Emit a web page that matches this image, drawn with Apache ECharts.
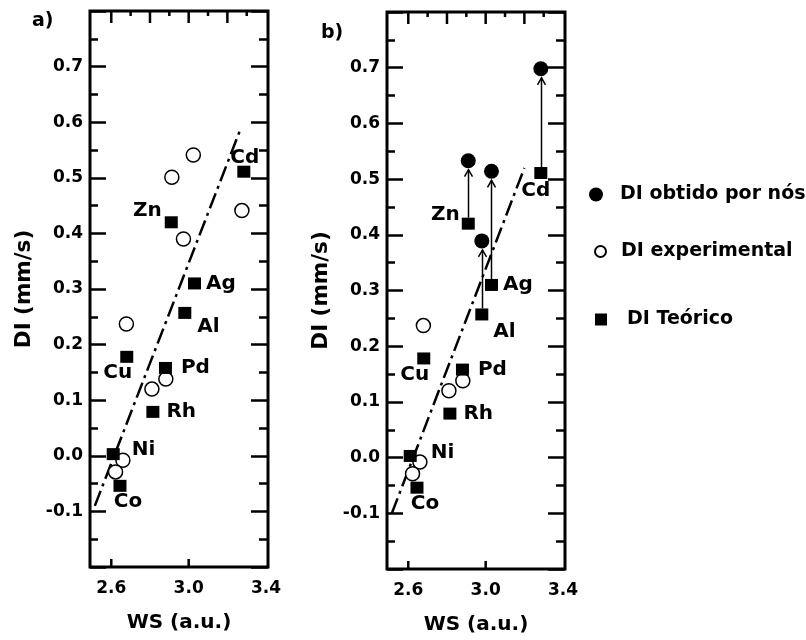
<!DOCTYPE html>
<html>
<head>
<meta charset="utf-8">
<title>DI x WS</title>
<script src="https://cdn.jsdelivr.net/npm/echarts@6/dist/echarts.min.js"></script>
<style>
html, body { margin: 0; padding: 0; background: #fff; }
#chart { width: 806px; height: 640px; }
</style>
</head>
<body>
<div id="chart"></div>
<script>
// valores
const elementos = ['Ni', 'Co', 'Cu', 'Rh', 'Pd', 'Al', 'Ag', 'Zn', 'Cd'];
const wsTeorico = [2.61, 2.645, 2.68, 2.815, 2.88, 2.98, 3.03, 2.91, 3.285];
const diTeorico = [0.003, -0.054, 0.178, 0.079, 0.158, 0.257, 0.31, 0.42, 0.511];
const wsExperimental = [2.66, 2.622, 2.678, 2.81, 2.882, 2.973, 3.024, 2.913, 3.275];
const diExperimental = [-0.008, -0.029, 0.237, 0.12, 0.138, 0.39, 0.541, 0.501, 0.441];
const expPainelB = ['Ni', 'Co', 'Cu', 'Rh', 'Pd'];
const elementosObtido = ['Al', 'Ag', 'Zn', 'Cd'];
const diObtido = [0.389, 0.514, 0.533, 0.698];
const ajusteA = [[2.515, -0.09], [3.265, 0.585]];
const ajusteB = [[2.515, -0.10], [3.20, 0.52]];
const wsLabels = [2.6, 3.0, 3.4];
const wsTicksBase = [2.6, 3.0];
const wsMajor = [2.6, 2.8, 3.0, 3.2];
const wsMinor = [2.7, 2.9, 3.1, 3.3];
const diLabels = [-0.1, 0.0, 0.1, 0.2, 0.3, 0.4, 0.5, 0.6, 0.7];

const FONTE = 'DejaVu Sans';
const WS_MIN = 2.49, WS_MAX = 3.41;
const DI_MIN = -0.2, DI_MAX = 0.8;

// posição dos rótulos dos elementos
const rotA = {
  Ni: { position: 'right', distance: 12, offset: [0, -4] },
  Co: { position: 'bottom', distance: 0, offset: [8, 0] },
  Cu: { position: 'bottom', distance: 0, offset: [-9, 0] },
  Rh: { position: 'right', distance: 7 },
  Pd: { position: 'right', distance: 9 },
  Al: { position: 'right', distance: 6, offset: [0, 14] },
  Ag: { position: 'right', distance: 5 },
  Zn: { position: 'left', distance: 3, offset: [0, -11] },
  Cd: { position: 'top', distance: -2, offset: [1, 0] }
};
const rotB = Object.assign({}, rotA, {
  Ni: { position: 'right', distance: 14, offset: [0, -3] },
  Zn: { position: 'left', distance: 2, offset: [0, -9] },
  Al: { position: 'right', distance: 5, offset: [0, 17] },
  Cd: { position: 'bottom', distance: 2, offset: [-5, 0] }
});

function teorico (rot) {
  return elementos.map((e, i) => ({
    value: [wsTeorico[i], diTeorico[i]],
    label: Object.assign({ show: true, formatter: e }, rot[e])
  }));
}
function experimental (lista) {
  return elementos
    .map((e, i) => (lista.indexOf(e) >= 0 ? [wsExperimental[i], diExperimental[i]] : null))
    .filter((d) => d);
}

function eixoX (grid) {
  return {
    type: 'value', gridIndex: grid, position: 'bottom', min: WS_MIN, max: WS_MAX,
    splitLine: { show: false },
    axisLine: { show: false, onZero: false },
    axisTick: { show: false },
    axisLabel: { show: true, customValues: wsLabels, formatter: (v) => v.toFixed(1), margin: 13,
      color: '#000', fontFamily: FONTE, fontWeight: 'bold', fontSize: 17 },
    name: 'WS (a.u.)',
    nameLocation: 'middle', nameGap: 46,
    nameTextStyle: { color: '#000', fontFamily: FONTE, fontWeight: 'bold', fontSize: 20 }
  };
}
function eixoY (grid, pos, labels, major, minor) {
  return {
    type: 'value', gridIndex: grid, position: pos, min: DI_MIN, max: DI_MAX, interval: 0.1,
    splitLine: { show: false },
    axisLine: { show: false, onZero: false },
    axisTick: { show: true, inside: true, length: major, lineStyle: { color: '#000', width: 2.5 } },
    minorTick: { show: true, splitNumber: 2, length: minor, lineStyle: { color: '#000', width: 2.5 } },
    axisLabel: labels
      ? { show: true, customValues: diLabels, formatter: (v) => v.toFixed(1), margin: 7,
          color: '#000', fontFamily: FONTE, fontWeight: 'bold', fontSize: 17 }
      : { show: false },
    name: labels ? 'DI (mm/s)' : '',
    nameLocation: 'middle', nameGap: 55,
    nameTextStyle: { color: '#000', fontFamily: FONTE, fontWeight: 'bold', fontSize: 21.5 }
  };
}

// marcas do eixo WS nas bordas de baixo e de cima, como símbolos finos deslocados para dentro
function marca (ws, borda, len) {
  const dir = borda === DI_MIN ? -1 : 1;
  return { value: [ws, borda], symbolSize: [2.5, len], symbolOffset: [0, dir * len / 2] };
}
const marcasX = [].concat(
  wsTicksBase.map((v) => marca(v, DI_MIN, 8)),
  wsMajor.map((v) => marca(v, DI_MAX, 12)),
  wsMinor.map((v) => marca(v, DI_MAX, 5))
);

const rotuloEstilo = { color: '#000', fontFamily: FONTE, fontWeight: 'bold', fontSize: 20 };
const quadrado = { symbol: 'rect', symbolSize: [13, 12], itemStyle: { color: '#000', opacity: 1 } };
const aberto = { symbol: 'circle', symbolSize: 14,
  itemStyle: { color: '#fff', borderColor: '#000', borderWidth: 1.5, opacity: 1 } };
const linhaAjuste = { type: 'line', showSymbol: false, silent: true, z: 1,
  lineStyle: { color: '#000', width: 2.5, type: [16, 5, 3, 5] } };
const estiloMarcas = { type: 'scatter', symbol: 'rect', silent: true, clip: false, z: 5,
  itemStyle: { color: '#000', opacity: 1 }, emphasis: { disabled: true } };

function desenhaSeta (params, api) {
  const base = api.coord([api.value(0), api.value(1)]);
  const topo = api.coord([api.value(0), api.value(2)]);
  const x = Math.round(base[0]) + 0.5;
  const y0 = base[1] - 6;
  const y1 = topo[1] + 9;
  return {
    type: 'group',
    children: [
      { type: 'line', shape: { x1: x, y1: y0, x2: x, y2: y1 },
        style: { stroke: '#000', lineWidth: 1.5 } },
      { type: 'polyline', shape: { points: [[x - 4, y1 + 7], [x, y1], [x + 4, y1 + 7]] },
        style: { stroke: '#000', lineWidth: 1.5, fill: null } }
    ]
  };
}

const setas = elementosObtido.map((e, i) => {
  const k = elementos.indexOf(e);
  return [wsTeorico[k], diTeorico[k], diObtido[i]];
});
const obtido = elementosObtido.map((e, i) => [wsTeorico[elementos.indexOf(e)], diObtido[i]]);

function legenda (nome, left, top, tam, recuo) {
  return {
    data: [nome], left: left, top: top, orient: 'vertical', padding: 0,
    itemWidth: tam, itemHeight: tam, selectedMode: false,
    textStyle: { color: '#000', fontFamily: FONTE, fontWeight: 'bold', fontSize: 19,
      padding: [0, 0, 0, recuo] }
  };
}

var myChart = echarts.init(document.getElementById('chart'), null, { renderer: 'canvas' });

var option = {
  animation: false,
  backgroundColor: '#fff',
  title: [
    { text: 'a)', left: 32, top: 12, padding: 0,
      textStyle: { color: '#000', fontFamily: FONTE, fontWeight: 'bold', fontSize: 19 } },
    { text: 'b)', left: 321, top: 24, padding: 0,
      textStyle: { color: '#000', fontFamily: FONTE, fontWeight: 'bold', fontSize: 19 } }
  ],
  legend: [
    legenda('DI obtido por nós', 589, 185, 14, 12),
    legenda('DI experimental', 594, 242, 11, 10),
    legenda('DI Teórico', 595, 310, 12, 15)
  ],
  grid: [
    { left: 90, top: 11, width: 178, height: 556, show: true, borderColor: '#000', borderWidth: 3,
      backgroundColor: 'transparent', outerBoundsMode: 'none' },
    { left: 387, top: 12, width: 178, height: 557, show: true, borderColor: '#000', borderWidth: 3,
      backgroundColor: 'transparent', outerBoundsMode: 'none' }
  ],
  xAxis: [eixoX(0), eixoX(1)],
  yAxis: [
    eixoY(0, 'left', true, 16, 8),
    eixoY(0, 'right', false, 17, 9),
    eixoY(1, 'left', true, 16, 8),
    eixoY(1, 'right', false, 17, 9)
  ],
  series: [
    // painel a
    Object.assign({}, estiloMarcas, { name: 'marcas a', xAxisIndex: 0, yAxisIndex: 0, data: marcasX }),
    Object.assign({}, linhaAjuste, { name: 'ajuste a', xAxisIndex: 0, yAxisIndex: 0, data: ajusteA }),
    Object.assign({ type: 'scatter', name: 'DI experimental', xAxisIndex: 0, yAxisIndex: 0, z: 3,
      data: experimental(elementos) }, aberto),
    Object.assign({ type: 'scatter', name: 'DI Teórico', xAxisIndex: 0, yAxisIndex: 0, z: 4,
      label: rotuloEstilo, data: teorico(rotA) }, quadrado),
    // painel b
    Object.assign({}, estiloMarcas, { name: 'marcas b', xAxisIndex: 1, yAxisIndex: 2, data: marcasX }),
    Object.assign({}, linhaAjuste, { name: 'ajuste b', xAxisIndex: 1, yAxisIndex: 2, data: ajusteB }),
    { type: 'custom', name: 'setas', xAxisIndex: 1, yAxisIndex: 2, z: 2, silent: true,
      renderItem: desenhaSeta, encode: { x: 0, y: [1, 2] }, data: setas },
    Object.assign({ type: 'scatter', name: 'DI experimental', xAxisIndex: 1, yAxisIndex: 2, z: 3,
      data: experimental(expPainelB) }, aberto),
    Object.assign({ type: 'scatter', name: 'DI Teórico', xAxisIndex: 1, yAxisIndex: 2, z: 4,
      label: rotuloEstilo, data: teorico(rotB) }, quadrado),
    { type: 'scatter', name: 'DI obtido por nós', xAxisIndex: 1, yAxisIndex: 2, z: 4,
      symbol: 'circle', symbolSize: 15, itemStyle: { color: '#000', opacity: 1 }, data: obtido }
  ]
};

myChart.setOption(option);
</script>
</body>
</html>
